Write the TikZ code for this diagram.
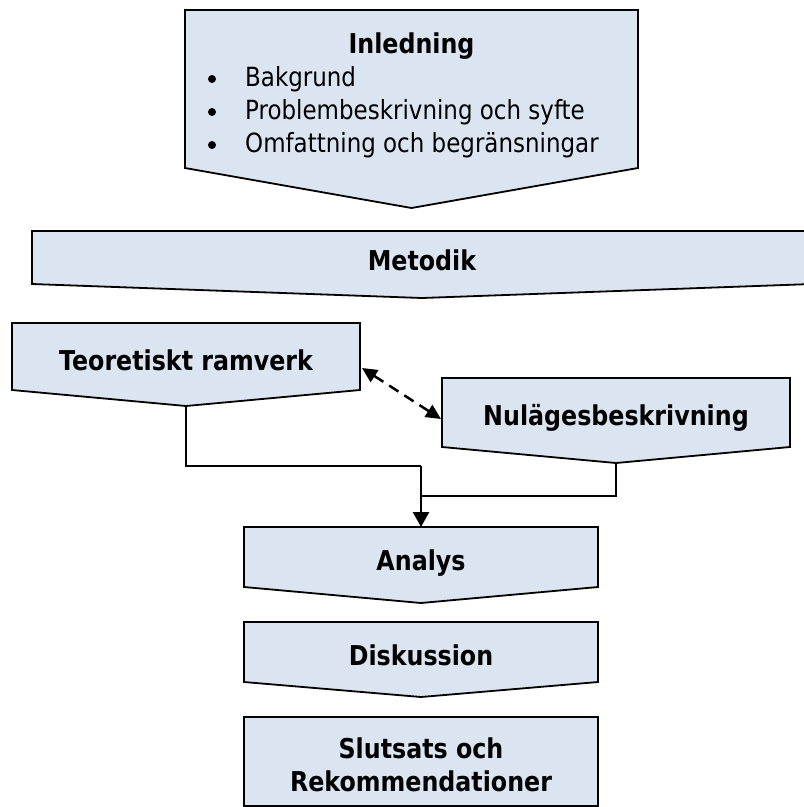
\documentclass[tikz,border=0pt]{standalone}
\usepackage{fontspec}
\setmainfont{DejaVu Sans}[FakeStretch=0.87]
\usetikzlibrary{arrows.meta}
\definecolor{boxfill}{HTML}{DBE5F1}
\begin{document}
\begin{tikzpicture}[x=1pt,y=-1pt,
  chev/.style={draw=black, fill=boxfill, line width=1.8pt, line join=miter},
  lbl/.style={font=\fontsize{27.3}{33}\selectfont\bfseries, align=center, inner sep=0pt, anchor=base},
  item/.style={font=\fontsize{26.4}{33}\selectfont, inner sep=0pt, anchor=base west},
  conn/.style={line width=2.5pt},
  head/.style={-{Triangle[length=15pt,width=16pt]}},
  dhead/.style={{Triangle[length=15pt,width=14pt]}-{Triangle[length=15pt,width=14pt]}, dash pattern=on 11pt off 7pt}
]
\useasboundingbox (0,0) rectangle (804,807);
\clip (0,0) rectangle (804,807);

% Inledning
\draw[chev] (185,10) -- (638,10) -- (638,168) -- (411.5,208) -- (185,168) -- cycle;
\node[lbl] (inl) at (411.5,53) {Inledning};
\fill (212,79) circle (4) (212,112) circle (4) (212,145) circle (4);
\node[item] (bak) at (245,86) {Bakgrund};
\node[item] (prob) at (245,119) {Problembeskrivning och syfte};
\node[item] (omf) at (245,152) {Omfattning och begränsningar};

% Metodik
\draw[chev] (32,231) -- (812,231) -- (812,284) -- (422,298) -- (32,284) -- cycle;
\node[lbl] (met) at (422,270) {Metodik};

% Teoretiskt ramverk
\draw[chev] (12,323) -- (360,323) -- (360,390) -- (186,406) -- (12,390) -- cycle;
\node[lbl] (teo) at (186,370) {Teoretiskt ramverk};
\coordinate (teoTip) at (186,406);
\coordinate (teoSide) at (362,368);

% Nulägesbeskrivning
\draw[chev] (442,378) -- (790,378) -- (790,447) -- (616,463) -- (442,447) -- cycle;
\node[lbl] (nul) at (616,425) {Nulägesbeskrivning};
\coordinate (nulTip) at (616,463);
\coordinate (nulSide) at (441,419);

% Analys
\draw[chev] (244,527) -- (598,527) -- (598,587) -- (421,603) -- (244,587) -- cycle;
\node[lbl] (ana) at (421,570) {Analys};
\coordinate (anaTop) at (421,527);

% Diskussion
\draw[chev] (244,622) -- (598,622) -- (598,682) -- (421,697) -- (244,682) -- cycle;
\node[lbl] (dis) at (421,665) {Diskussion};

% Slutsats och Rekommendationer
\draw[chev] (244,717) rectangle (598,806);
\node[lbl] (slu) at (421,758) {Slutsats och};
\node[lbl] (rek) at (421,791) {Rekommendationer};

% connectors
\coordinate (j1) at (421,466);
\coordinate (j2) at (421,496);
\draw[conn] (teoTip) |- (j1);
\draw[conn,head] (j1) -- (anaTop);
\draw[conn] (nulTip) |- (j2);
\draw[conn,dhead] (teoSide) -- (nulSide);
\end{tikzpicture}
\end{document}
